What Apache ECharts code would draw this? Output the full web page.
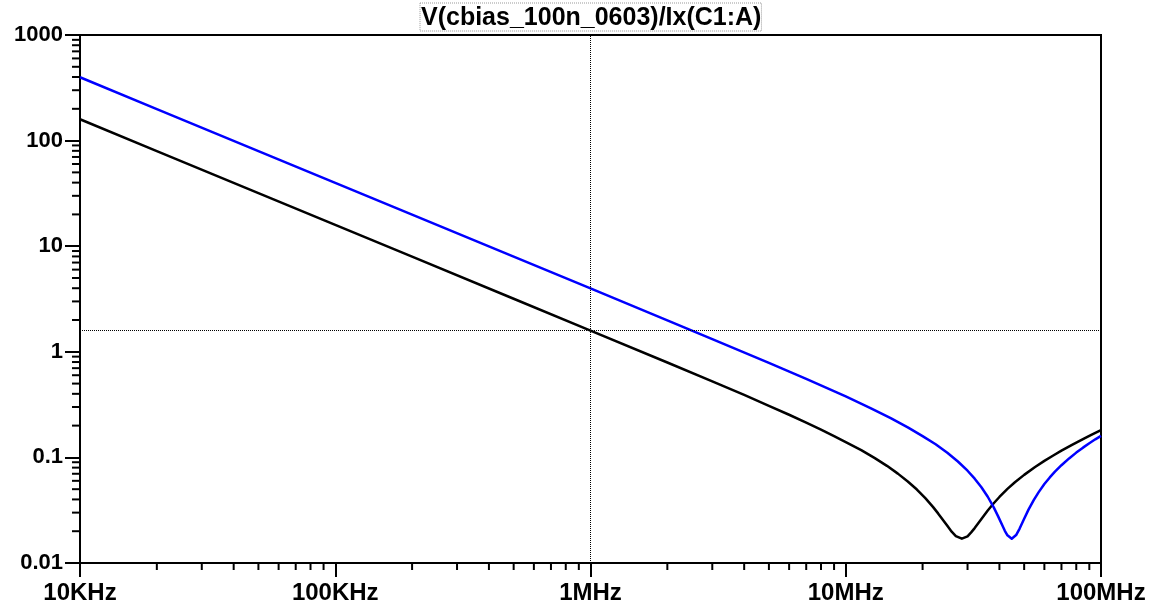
<!DOCTYPE html>
<html>
<head>
<meta charset="utf-8">
<script src="https://cdn.jsdelivr.net/npm/echarts@6/dist/echarts.min.js"></script>
<style>
html,body{margin:0;padding:0;background:#fff;}
#chart{width:1151px;height:606px;}
</style>
</head>
<body>
<div id="chart"></div>
<script>
// ---- data ----
const titleText = 'V(cbias_100n_0603)/Ix(C1:A)';

const freqBlack = [1e4, 2e4, 5e4, 1e5, 2e5, 5e5, 1e6, 2e6, 3e6, 4e6, 5e6, 6e6, 7e6, 8e6, 9e6, 1e7, 1.15e7, 1.3e7, 1.45e7, 1.6e7, 1.75e7, 1.9e7, 2.05e7, 2.2e7, 2.3e7, 2.4e7, 2.5e7, 2.6e7, 2.7e7, 2.85e7, 3.0e7, 3.1e7, 3.2e7, 3.4e7, 3.6e7, 3.8e7, 4.0e7, 4.3e7, 4.6e7, 5e7, 5.5e7, 6e7, 6.5e7, 7e7, 7.7e7, 8.5e7, 9.2e7, 1e8];
const zBlack    = [159.2, 79.6, 31.8, 15.9, 7.96, 3.18, 1.59, 0.792, 0.5246, 0.3901, 0.308, 0.2535, 0.2137, 0.1832, 0.1592, 0.1396, 0.1171, 0.0984, 0.0832, 0.0702, 0.0591, 0.0496, 0.0411, 0.0338, 0.0295, 0.0257, 0.0225, 0.0198, 0.0180, 0.0170, 0.0179, 0.0195, 0.0214, 0.0261, 0.0314, 0.0368, 0.0422, 0.0503, 0.0581, 0.0683, 0.0807, 0.0927, 0.1043, 0.1158, 0.1313, 0.1489, 0.1639, 0.181];

const freqBlue = [1e4, 2e4, 5e4, 1e5, 2e5, 5e5, 1e6, 2e6, 3e6, 5e6, 7e6, 1e7, 1.25e7, 1.5e7, 1.75e7, 2e7, 2.25e7, 2.5e7, 2.75e7, 3e7, 3.2e7, 3.4e7, 3.6e7, 3.8e7, 3.95e7, 4.1e7, 4.2e7, 4.3e7, 4.47e7, 4.65e7, 4.8e7, 5e7, 5.2e7, 5.45e7, 5.7e7, 6e7, 6.3e7, 6.6e7, 7e7, 7.5e7, 8e7, 8.5e7, 9e7, 9.5e7, 1e8];
const zBlue    = [397.9, 198.9, 79.6, 39.8, 19.9, 7.96, 3.98, 1.985, 1.3203, 0.786, 0.5545, 0.378, 0.2934, 0.2354, 0.1925, 0.159, 0.1331, 0.1107, 0.0915, 0.0748, 0.0629, 0.0521, 0.0424, 0.0336, 0.0278, 0.0229, 0.0202, 0.0183, 0.0170, 0.0184, 0.0212, 0.0262, 0.0320, 0.0394, 0.0469, 0.0559, 0.0646, 0.0732, 0.0843, 0.0978, 0.1110, 0.1237, 0.1362, 0.1483, 0.160];

const cursorX = 1e6;
const cursorY = 1.59;

const xTickValues = [1e4, 1e5, 1e6, 1e7, 1e8];
const xTickLabels = ['10KHz', '100KHz', '1MHz', '10MHz', '100MHz'];
const yTickValues = [0.01, 0.1, 1, 10, 100, 1000];
const yTickLabels = ['0.01', '0.1', '1', '10', '100', '1000'];

// minor tick positions (2..9 within each decade)
const xMinor = [];
for (let d = 1e4; d < 1e8; d *= 10) for (let k = 2; k <= 9; k++) xMinor.push(d * k);
const yMinor = [];
for (let d = 0.01; d < 999; d *= 10) for (let k = 2; k <= 9; k++) yMinor.push(+(d * k).toPrecision(3));

const xMin = 1e4, xMax = 1e8, yMin = 0.01, yMax = 1000;

function labelFor(values, labels, v) {
  for (let i = 0; i < values.length; i++) {
    if (Math.abs(Math.log10(v) - Math.log10(values[i])) < 1e-6) return labels[i];
  }
  return '';
}

const chart = echarts.init(document.getElementById('chart'), null, {renderer: 'canvas'});
const font = '"Liberation Sans", Arial, sans-serif';

const option = {
  animation: false,
  backgroundColor: '#ffffff',
  title: {
    text: '{t|' + titleText + '}',
    left: 420,
    top: 4,
    padding: 0,
    textStyle: {
      rich: {
        t: {
          fontFamily: font, fontWeight: 'bold', fontSize: 25, color: '#000',
          borderColor: '#999', borderWidth: 1, borderType: 'dotted',
          padding: [3, 0, 0, 1], lineHeight: 26
        }
      }
    }
  },
  grid: {
    left: 80, right: 50, top: 35, bottom: 43,
    show: true, borderColor: '#000', borderWidth: 2, backgroundColor: 'transparent'
  },
  xAxis: {
    type: 'log', logBase: 10, min: xMin, max: xMax,
    axisLine: {show: true, lineStyle: {color: '#000', width: 2}},
    axisTick: {show: true, length: 14, lineStyle: {color: '#000', width: 2}},
    splitLine: {show: false},
    axisLabel: {
      margin: 18, color: '#000', fontFamily: font, fontWeight: 'bold', fontSize: 24,
      formatter: v => labelFor(xTickValues, xTickLabels, v)
    }
  },
  yAxis: {
    type: 'log', logBase: 10, min: yMin, max: yMax,
    axisLine: {show: true, lineStyle: {color: '#000', width: 2}},
    axisTick: {show: true, length: 15, lineStyle: {color: '#000', width: 2}},
    splitLine: {show: false},
    axisLabel: {
      margin: 17, color: '#000', fontFamily: font, fontWeight: 'bold', fontSize: 22,
      formatter: v => labelFor(yTickValues, yTickLabels, v)
    }
  },
  series: [
    {
      type: 'custom', name: 'xMinor', silent: true, clip: false, z: 5,
      data: xMinor.map(v => [v]),
      encode: {x: 0},
      renderItem: function (params, api) {
        const p = api.coord([api.value(0), yMin]);
        return {type: 'line', shape: {x1: p[0], y1: p[1], x2: p[0], y2: p[1] + 7}, style: {stroke: '#000', lineWidth: 2}};
      }
    },
    {
      type: 'custom', name: 'yMinor', silent: true, clip: false, z: 5,
      data: yMinor.map(v => [xMin, v]),
      encode: {x: 0, y: 1},
      renderItem: function (params, api) {
        const p = api.coord([xMin, api.value(1)]);
        return {type: 'line', shape: {x1: p[0] - 8, y1: p[1], x2: p[0], y2: p[1]}, style: {stroke: '#000', lineWidth: 2}};
      }
    },
    {
      type: 'line', name: 'black', data: freqBlack.map((f, i) => [f, zBlack[i]]),
      showSymbol: false, symbol: 'none', smooth: false, z: 3,
      lineStyle: {color: '#000000', width: 2.5, join: 'round'},
      markLine: {
        silent: true, symbol: 'none', animation: false,
        label: {show: false},
        lineStyle: {color: '#000', width: 1, type: [1, 1]},
        data: [{xAxis: cursorX}, {yAxis: cursorY}]
      }
    },
    {
      type: 'line', name: 'blue', data: freqBlue.map((f, i) => [f, zBlue[i]]),
      showSymbol: false, symbol: 'none', smooth: false, z: 3,
      lineStyle: {color: '#0000ff', width: 2.5, join: 'round'}
    }
  ]
};
chart.setOption(option);
</script>
</body>
</html>
